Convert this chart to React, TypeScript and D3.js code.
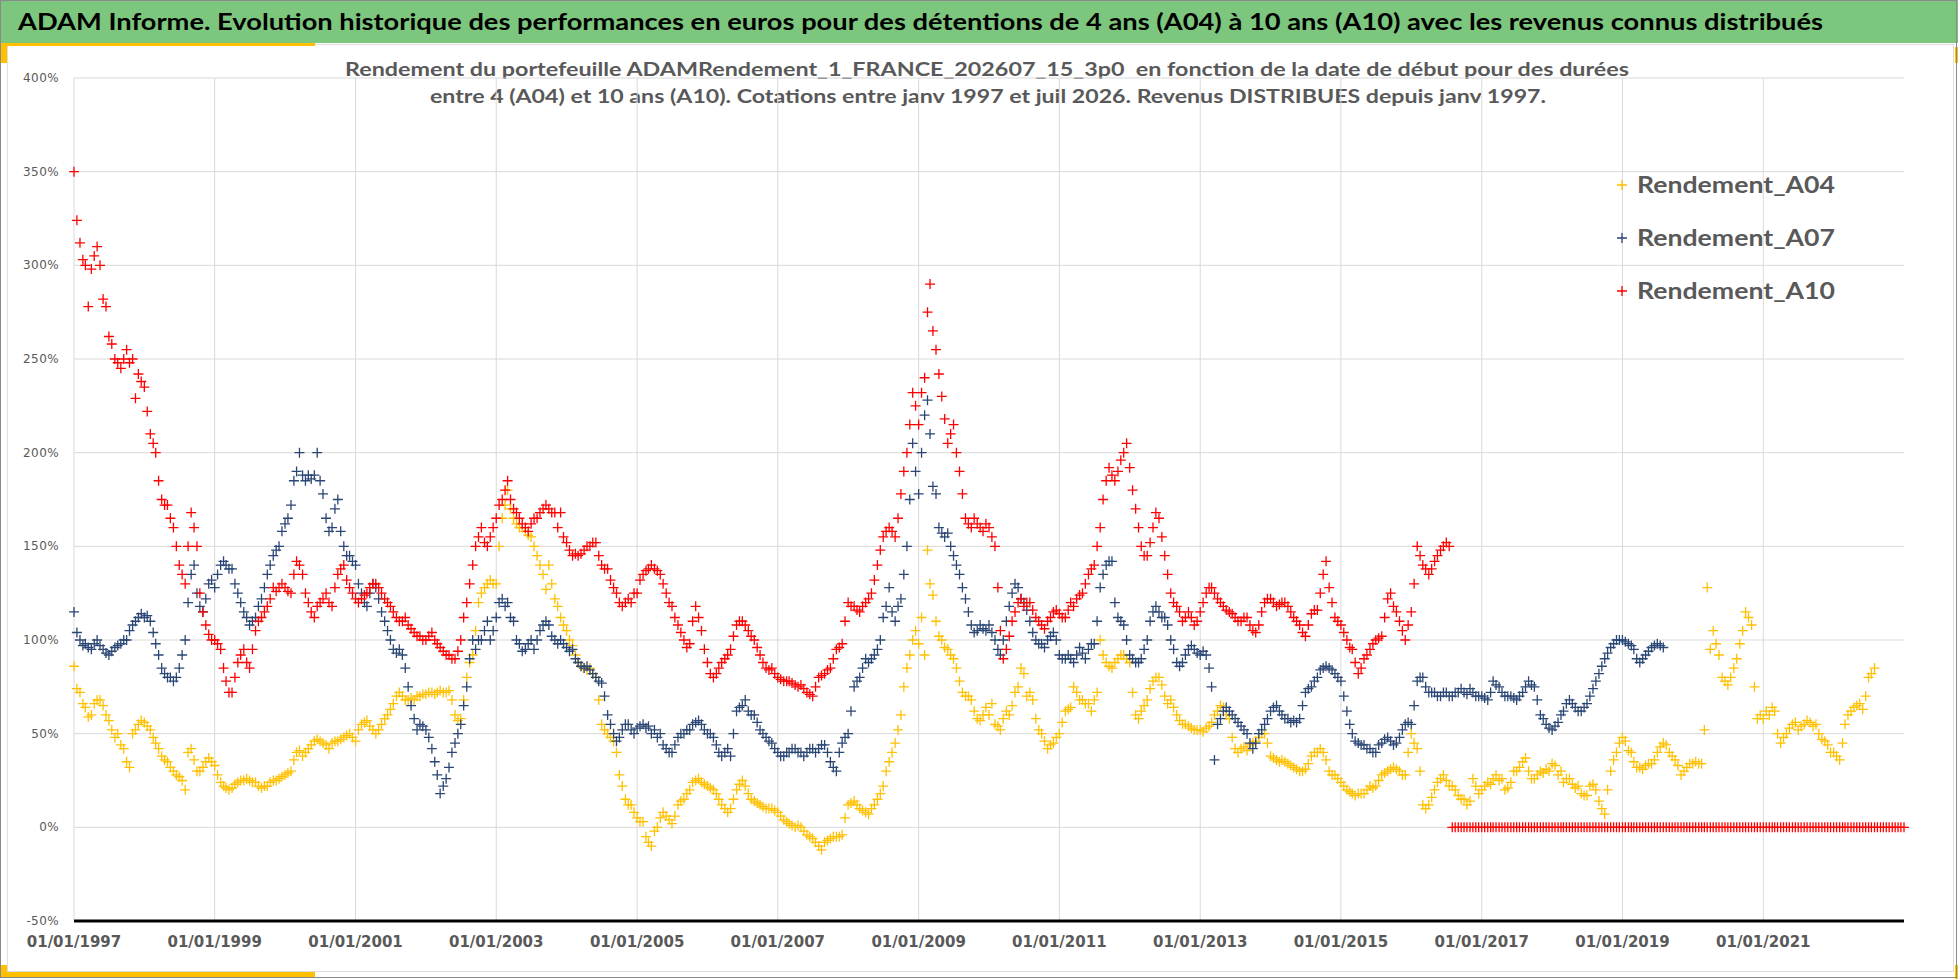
import React from "react";
import * as d3 from "d3";

// ---------- DATA (readings on the 1st and the 16th of each month, % return) ----------
const seriesNames = ["Rendement_A04", "Rendement_A07", "Rendement_A10"];
const seriesColors = ["#FFC000", "#2a4674", "#FF0000"];

// A04 : from 01/01/1997 to 01/08/2022
const a04Start = new Date(1997, 0, 1);
const a04Values = [
  86, 74, 72, 66, 64, 59, 60, 66, 68, 68, 65, 60, 57, 52, 48, 50, 44, 42, 35, 32, 50, 52, 55, 57, // 1997
  56, 54, 52, 48, 45, 42, 38, 36, 35, 32, 30, 28, 27, 25, 20, 40, 42, 36, 30, 30, 32, 35, 37, 35, // 1998
  33, 28, 24, 22, 21, 20, 21, 23, 24, 25, 25, 26, 25, 24, 24, 22, 21, 22, 22, 24, 25, 25, 26, 27, // 1999
  28, 29, 30, 36, 40, 41, 38, 40, 42, 44, 46, 47, 46, 45, 44, 42, 45, 46, 46, 47, 48, 49, 50, 48, // 2000
  46, 52, 55, 56, 57, 54, 52, 50, 52, 55, 58, 60, 63, 66, 70, 72, 70, 68, 68, 69, 68, 70, 70, 71, // 2001
  71, 72, 72, 71, 72, 73, 72, 72, 73, 68, 60, 57, 58, 68, 80, 88, 92, 105, 120, 125, 128, 130, 132, 130, // 2002
  130, 150, 165, 172, 180, 170, 165, 162, 160, 160, 158, 156, 155, 150, 145, 140, 135, 127, 140, 130, 122, 118, 112, 108, // 2003
  105, 100, 97, 92, 88, 86, 85, 84, 85, 82, 80, 68, 55, 52, 50, 48, 46, 40, 28, 22, 15, 12, 12, 8, // 2004
  5, 3, 3, -5, -8, -10, -2, 0, 5, 8, 6, 4, 2, 6, 12, 14, 15, 18, 20, 24, 25, 26, 24, 23, // 2005
  22, 21, 20, 18, 15, 12, 10, 8, 10, 15, 20, 23, 25, 22, 18, 15, 14, 13, 12, 11, 10, 10, 10, 9, // 2006
  8, 6, 4, 3, 2, 1, 0, 1, 0, -2, -4, -5, -6, -8, -10, -12, -8, -7, -6, -5, -5, -5, -4, 5, // 2007
  12, 13, 14, 12, 10, 9, 8, 7, 10, 12, 15, 18, 22, 30, 35, 40, 45, 52, 60, 75, 85, 92, 100, 105, // 2008
  98, 112, 92, 148, 130, 124, 110, 102, 100, 96, 95, 92, 90, 85, 78, 72, 70, 70, 68, 62, 58, 57, 60, 64, // 2009
  60, 66, 55, 54, 52, 58, 62, 60, 65, 72, 75, 85, 82, 70, 72, 68, 58, 52, 50, 46, 42, 44, 45, 48, // 2010
  50, 56, 62, 63, 64, 75, 72, 68, 68, 66, 66, 62, 68, 72, 100, 92, 88, 86, 85, 88, 90, 92, 92, 90, // 2011
  88, 72, 60, 58, 62, 65, 68, 74, 78, 80, 80, 76, 70, 66, 68, 64, 60, 57, 55, 55, 54, 53, 52, 52, // 2012
  52, 51, 53, 54, 56, 60, 62, 65, 64, 60, 58, 48, 42, 40, 42, 43, 41, 44, 45, 46, 48, 50, 50, 45, // 2013
  38, 37, 36, 35, 36, 35, 34, 33, 32, 31, 30, 30, 31, 34, 38, 40, 40, 42, 40, 36, 30, 28, 28, 26, // 2014
  24, 22, 20, 19, 18, 17, 18, 18, 18, 20, 22, 21, 22, 25, 28, 29, 30, 31, 32, 31, 30, 28, 28, 40, // 2015
  50, 45, 42, 30, 12, 10, 12, 16, 20, 24, 26, 28, 25, 22, 22, 20, 17, 15, 15, 12, 14, 26, 22, 18, // 2016
  20, 22, 24, 23, 26, 28, 25, 26, 20, 21, 24, 30, 30, 32, 35, 37, 30, 26, 26, 28, 30, 29, 31, 30, // 2017
  34, 33, 28, 30, 24, 26, 26, 23, 21, 22, 18, 17, 17, 22, 23, 20, 14, 10, 7, 20, 30, 36, 40, 45, // 2018
  48, 46, 41, 40, 35, 32, 32, 31, 33, 34, 34, 36, 40, 43, 45, 44, 40, 38, 36, 33, 28, 30, 32, 34, // 2019
  34, 35, 34, 34, 52, 128, 95, 105, 98, 92, 80, 78, 76, 80, 85, 90, 98, 105, 115, 112, 108, 75, 58, 60, // 2020
  58, 62, 60, 64, 62, 50, 45, 48, 50, 53, 55, 56, 52, 54, 55, 57, 56, 54, 55, 50, 47, 46, 44, 40, // 2021
  40, 38, 36, 45, 55, 60, 62, 64, 65, 66, 63, 70, 80, 82, 85, // 2022
];

// A07 : from 01/01/1997 to 01/08/2019
const a07Start = new Date(1997, 0, 1);
const a07Values = [
  115, 104, 100, 97, 98, 96, 95, 98, 100, 97, 95, 93, 92, 94, 96, 97, 98, 100, 100, 105, 108, 110, 112, 114, // 1997
  112, 113, 110, 104, 98, 92, 85, 82, 80, 80, 78, 80, 85, 92, 100, 120, 135, 140, 125, 118, 115, 122, 130, 132, // 1998
  128, 135, 140, 142, 140, 138, 138, 130, 125, 120, 115, 112, 108, 110, 112, 118, 122, 128, 135, 140, 145, 148, 150, 158, // 1999
  162, 165, 172, 185, 190, 200, 188, 185, 188, 186, 188, 200, 185, 178, 165, 158, 160, 170, 175, 158, 150, 145, 145, 142, // 2000
  140, 130, 125, 120, 118, 125, 130, 128, 122, 115, 110, 105, 100, 95, 93, 95, 92, 85, 75, 65, 58, 52, 55, 54, // 2001
  52, 48, 42, 35, 28, 18, 22, 26, 32, 40, 45, 50, 55, 65, 75, 90, 100, 95, 100, 100, 105, 110, 100, 105, // 2002
  112, 120, 122, 118, 120, 112, 110, 100, 98, 94, 95, 98, 100, 95, 100, 105, 108, 110, 108, 102, 100, 98, 100, 98, // 2003
  96, 94, 95, 90, 88, 86, 85, 86, 84, 82, 80, 78, 77, 70, 60, 55, 50, 46, 48, 52, 55, 55, 52, 50, // 2004
  53, 54, 55, 53, 54, 50, 52, 48, 50, 44, 42, 40, 40, 44, 48, 50, 50, 52, 52, 55, 56, 57, 55, 52, // 2005
  50, 50, 48, 44, 40, 38, 40, 42, 38, 50, 62, 64, 65, 68, 62, 60, 60, 56, 52, 50, 48, 46, 45, 42, // 2006
  40, 38, 38, 40, 40, 42, 42, 40, 40, 38, 40, 42, 42, 40, 42, 44, 44, 40, 35, 32, 30, 40, 45, 48, // 2007
  50, 62, 75, 78, 80, 85, 90, 88, 90, 92, 95, 100, 112, 118, 128, 115, 110, 118, 122, 135, 150, 175, 205, 190, // 2008
  178, 200, 220, 228, 210, 182, 178, 160, 157, 155, 157, 150, 145, 140, 135, 128, 122, 115, 108, 104, 105, 108, 106, 105, // 2009
  108, 104, 100, 95, 92, 100, 110, 118, 125, 130, 128, 122, 120, 116, 110, 104, 100, 98, 98, 96, 100, 102, 104, 100, // 2010
  92, 90, 90, 92, 90, 88, 92, 96, 93, 90, 95, 98, 98, 110, 128, 135, 140, 142, 142, 120, 112, 110, 108, 100, // 2011
  92, 90, 88, 88, 90, 95, 100, 110, 115, 118, 115, 112, 112, 108, 100, 95, 88, 86, 88, 92, 95, 97, 95, 93, // 2012
  92, 94, 92, 85, 75, 36, 55, 58, 62, 64, 62, 60, 58, 56, 54, 52, 50, 45, 42, 45, 50, 52, 55, 58, // 2013
  62, 64, 65, 62, 60, 58, 58, 56, 57, 56, 58, 65, 72, 74, 75, 78, 80, 84, 85, 86, 85, 84, 82, 80, // 2014
  78, 70, 62, 55, 50, 46, 45, 44, 44, 42, 42, 40, 40, 44, 45, 47, 48, 46, 44, 45, 48, 52, 55, 56, // 2015
  55, 65, 78, 80, 80, 75, 72, 72, 72, 70, 70, 72, 72, 70, 70, 72, 72, 74, 72, 71, 74, 72, 70, 70, // 2016
  70, 69, 68, 72, 78, 76, 75, 72, 70, 70, 70, 69, 68, 70, 72, 75, 78, 76, 75, 68, 60, 58, 55, 53, // 2017
  52, 54, 56, 60, 62, 66, 68, 66, 64, 62, 62, 64, 66, 70, 74, 78, 82, 86, 90, 93, 96, 98, 100, 100, // 2018
  100, 99, 98, 97, 95, 90, 88, 90, 92, 94, 96, 97, 98, 97, 96, // 2019
];

// A10 : from 01/01/1997 to 01/01/2023 (no known value after 07/2016, plotted at 0)
const a10Start = new Date(1997, 0, 1);
const a10Values = [
  350, 324, 312, 303, 300, 278, 298, 305, 310, 300, 282, 278, 262, 258, 250, 248, 245, 250, 255, 248, 250, 229, 242, 238, // 1997
  235, 222, 210, 205, 200, 185, 175, 172, 172, 165, 160, 150, 140, 135, 130, 150, 168, 160, 150, 125, 115, 108, 103, 100, // 1998
  100, 98, 95, 85, 78, 72, 72, 80, 88, 92, 95, 88, 85, 95, 105, 110, 112, 115, 118, 122, 128, 126, 128, 130, // 1999
  128, 126, 125, 135, 142, 140, 135, 125, 120, 115, 112, 118, 120, 122, 125, 120, 118, 128, 135, 138, 140, 132, 128, 125, // 2000
  122, 120, 122, 124, 125, 128, 130, 130, 128, 125, 122, 120, 118, 115, 112, 110, 110, 112, 108, 106, 104, 102, 102, 100, // 2001
  100, 102, 104, 100, 98, 96, 94, 92, 92, 90, 90, 94, 100, 112, 120, 130, 140, 150, 155, 160, 152, 150, 155, 160, // 2002
  165, 172, 175, 180, 185, 175, 170, 168, 165, 162, 160, 158, 162, 165, 165, 168, 170, 172, 170, 168, 168, 160, 168, 155, // 2003
  152, 148, 145, 146, 145, 146, 148, 150, 150, 152, 152, 145, 140, 138, 138, 132, 128, 125, 120, 118, 120, 122, 120, 125, // 2004
  125, 132, 135, 137, 138, 140, 138, 137, 135, 130, 125, 120, 118, 112, 108, 104, 100, 96, 98, 110, 118, 112, 105, 95, // 2005
  88, 82, 80, 82, 85, 88, 90, 92, 95, 102, 108, 110, 110, 108, 105, 102, 100, 96, 92, 88, 85, 84, 85, 82, // 2006
  80, 79, 78, 78, 78, 77, 76, 75, 76, 74, 72, 71, 70, 75, 80, 81, 82, 84, 85, 90, 95, 96, 98, 110, // 2007
  120, 118, 118, 116, 115, 118, 120, 122, 125, 132, 140, 148, 155, 158, 160, 158, 155, 165, 178, 190, 200, 215, 232, 225, // 2008
  215, 232, 240, 275, 290, 265, 255, 242, 230, 218, 205, 210, 215, 200, 190, 178, 165, 162, 160, 165, 162, 160, 158, 162, // 2009
  160, 155, 150, 128, 105, 90, 95, 102, 110, 115, 120, 122, 118, 120, 120, 116, 112, 110, 108, 106, 110, 112, 115, 116, // 2010
  114, 112, 112, 116, 120, 118, 122, 124, 125, 130, 135, 138, 140, 150, 160, 175, 185, 192, 188, 185, 190, 196, 200, 205, // 2011
  192, 180, 170, 160, 150, 145, 145, 152, 160, 168, 165, 155, 145, 135, 125, 120, 118, 115, 110, 112, 115, 112, 108, 110, // 2012
  115, 120, 125, 128, 128, 125, 122, 120, 118, 116, 115, 114, 112, 110, 110, 112, 112, 108, 105, 104, 108, 115, 120, 122, // 2013
  122, 120, 118, 119, 120, 120, 118, 115, 112, 110, 108, 104, 102, 108, 114, 116, 116, 125, 135, 142, 128, 120, 112, 110, // 2014
  108, 104, 100, 96, 95, 88, 82, 85, 90, 92, 95, 98, 100, 101, 102, 112, 122, 125, 118, 115, 110, 105, 100, 108, // 2015
  115, 130, 150, 145, 140, 138, 135, 138, 142, 145, 148, 150, 152, 150, 0, 0, 0, 0, 0, 0, 0, 0, 0, 0, // 2016
  0, 0, 0, 0, 0, 0, 0, 0, 0, 0, 0, 0, 0, 0, 0, 0, 0, 0, 0, 0, 0, 0, 0, 0, // 2017
  0, 0, 0, 0, 0, 0, 0, 0, 0, 0, 0, 0, 0, 0, 0, 0, 0, 0, 0, 0, 0, 0, 0, 0, // 2018
  0, 0, 0, 0, 0, 0, 0, 0, 0, 0, 0, 0, 0, 0, 0, 0, 0, 0, 0, 0, 0, 0, 0, 0, // 2019
  0, 0, 0, 0, 0, 0, 0, 0, 0, 0, 0, 0, 0, 0, 0, 0, 0, 0, 0, 0, 0, 0, 0, 0, // 2020
  0, 0, 0, 0, 0, 0, 0, 0, 0, 0, 0, 0, 0, 0, 0, 0, 0, 0, 0, 0, 0, 0, 0, 0, // 2021
  0, 0, 0, 0, 0, 0, 0, 0, 0, 0, 0, 0, 0, 0, 0, 0, 0, 0, 0, 0, 0, 0, 0, 0, // 2022
  0, // 2023
];

const yTickValues = [-50, 0, 50, 100, 150, 200, 250, 300, 350, 400];
const xTickYears = [1997, 1999, 2001, 2003, 2005, 2007, 2009, 2011, 2013, 2015, 2017, 2019, 2021];

const titleText =
  "ADAM Informe. Evolution historique des performances en euros pour des détentions de 4 ans (A04) à 10 ans (A10) avec les revenus connus distribués";
const subtitleLine1 =
  "Rendement du portefeuille ADAMRendement_1_FRANCE_202607_15_3p0  en fonction de la date de début pour des durées";
const subtitleLine2 =
  "entre 4 (A04) et 10 ans (A10). Cotations entre janv 1997 et juil 2026. Revenus DISTRIBUES depuis janv 1997.";

// ---------- COMPONENT ----------
const W = 1958;
const H = 979;

function toPoints(start: Date, values: number[]) {
  return values.map((v, i) => {
    const month = d3.timeMonth.offset(start, Math.floor(i / 2));
    const date = i % 2 === 1 ? d3.timeDay.offset(month, 15) : month;
    return { date, value: v };
  });
}

export default function App() {
  const x = d3
    .scaleTime()
    .domain([new Date(1997, 0, 1), new Date(2023, 0, 1)])
    .range([74, 1904]);
  const y = d3.scaleLinear().domain([-50, 400]).range([921, 78]);

  const series = [
    toPoints(a04Start, a04Values),
    toPoints(a07Start, a07Values),
    toPoints(a10Start, a10Values),
  ];

  const cross = "M-5,0H5M0,-5V5";
  const fmt = d3.timeFormat("%d/%m/%Y");
  const gray = "#595959";
  const grid = "#d9d9d9";
  const legendY = [185, 238, 291];

  return (
    <svg
      width={W}
      height={H}
      viewBox={`0 0 ${W} ${H}`}
      style={{ position: "absolute", left: 0, top: 0, display: "block", background: "#fff" }}
    >
      <rect x={0} y={0} width={W} height={H} fill="#ffffff" />
      {/* chart area border */}
      <rect x={7.5} y={44.5} width={1946} height={927} fill="none" stroke="#dedede" strokeWidth={1} />
      {/* title bar */}
      <rect x={0} y={0} width={W} height={43} fill="#7cc67e" />
      <rect x={7} y={43} width={308} height={3} fill="#FFC000" />
      <rect x={0} y={43} width={7} height={20} fill="#FFC000" />
      <rect x={1955} y={47} width={3} height={16} fill="#FFC000" />
      {/* bottom corner decorations */}
      <rect x={0} y={965} width={7} height={13} fill="#FFC000" />
      <rect x={7} y={972} width={308} height={5} fill="#FFC000" />
      <rect x={1955} y={965} width={3} height={14} fill="#FFC000" />
      <text
        x={18}
        y={30}
        fontFamily="Lato, 'Open Sans', sans-serif"
        fontWeight={700}
        fontSize={23}
        fill="#000"
        textLength={1805}
        lengthAdjust="spacingAndGlyphs"
      >
        {titleText}
      </text>

      {/* subtitle */}
      <text
        x={345}
        y={76}
        fontFamily="Lato, 'Open Sans', sans-serif"
        fontWeight={700}
        fontSize={18}
        fill={gray}
        textLength={1284}
        lengthAdjust="spacingAndGlyphs"
        style={{ whiteSpace: "pre" }}
      >
        {subtitleLine1}
      </text>
      <text
        x={430}
        y={103}
        fontFamily="Lato, 'Open Sans', sans-serif"
        fontWeight={700}
        fontSize={18}
        fill={gray}
        textLength={1116}
        lengthAdjust="spacingAndGlyphs"
      >
        {subtitleLine2}
      </text>

      {/* gridlines */}
      <g>
        {yTickValues
          .filter((v) => v > -50)
          .map((v) => (
            <line key={"h" + v} x1={74} x2={1904} y1={y(v)} y2={y(v)} stroke={grid} strokeWidth={1} />
          ))}
        {xTickYears.map((yr) => {
          const xx = x(new Date(yr, 0, 1));
          return <line key={"v" + yr} x1={xx} x2={xx} y1={y(400)} y2={y(-50)} stroke={grid} strokeWidth={1} />;
        })}
      </g>

      {/* y tick labels */}
      <g fontFamily="'DejaVu Sans', Verdana, sans-serif" fontSize={12} fill={gray} letterSpacing={0.4}>
        {yTickValues.map((v) => (
          <text key={"yl" + v} x={59} y={y(v) + 4} textAnchor="end">
            {v + "%"}
          </text>
        ))}
      </g>

      {/* series */}
      {series.map((pts, si) => (
        <g key={"s" + si} stroke={seriesColors[si]} strokeWidth={1.3} fill="none">
          {pts.map((p, i) => (
            <path key={i} d={cross} transform={`translate(${x(p.date)},${y(p.value)})`} />
          ))}
        </g>
      ))}

      {/* bottom axis */}
      <line x1={74} x2={1904} y1={y(-50)} y2={y(-50)} stroke="#000" strokeWidth={3} />
      <g fontFamily="'DejaVu Sans', Verdana, sans-serif" fontWeight={700} fontSize={15} fill={gray}>
        {xTickYears.map((yr) => {
          const d = new Date(yr, 0, 1);
          return (
            <text key={"xl" + yr} x={x(d)} y={947} textAnchor="middle">
              {fmt(d)}
            </text>
          );
        })}
      </g>

      {/* legend */}
      {seriesNames.map((name, i) => (
        <g key={"lg" + i}>
          <path d={cross} transform={`translate(1622,${legendY[i]})`} stroke={seriesColors[i]} strokeWidth={1.3} />
          <text
            x={1637}
            y={legendY[i] + 8}
            fontFamily="Lato, 'Open Sans', sans-serif"
            fontWeight={700}
            fontSize={22}
            fill={gray}
            textLength={198}
            lengthAdjust="spacingAndGlyphs"
          >
            {name}
          </text>
        </g>
      ))}

      {/* outer frame */}
      <rect x={0.5} y={0.5} width={1956} height={977} fill="none" stroke="#8a8a8a" strokeWidth={1} />
    </svg>
  );
}
